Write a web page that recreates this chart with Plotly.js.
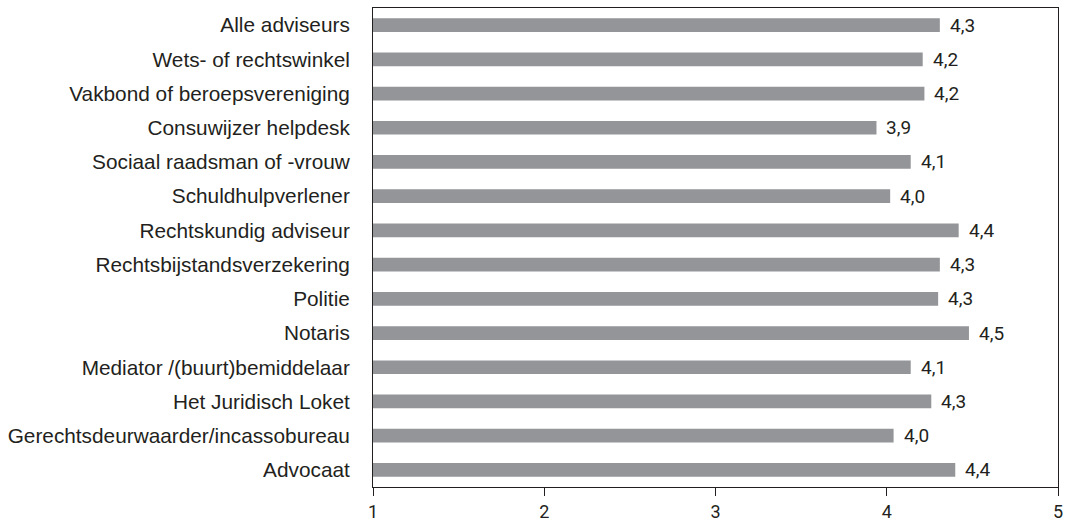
<!DOCTYPE html>
<html>
<head>
<meta charset="utf-8">
<script src="https://cdn.plot.ly/plotly-3.0.1.min.js"></script>
<style>html,body{margin:0;padding:0;background:#fff;}#chart{width:1067px;height:523px;}</style>
</head>
<body>
<div id="chart"></div>
<script>
const categories = [
  "Alle adviseurs",
  "Wets- of rechtswinkel",
  "Vakbond of beroepsvereniging",
  "Consuwijzer helpdesk",
  "Sociaal raadsman of -vrouw",
  "Schuldhulpverlener",
  "Rechtskundig adviseur",
  "Rechtsbijstandsverzekering",
  "Politie",
  "Notaris",
  "Mediator /(buurt)bemiddelaar",
  "Het Juridisch Loket",
  "Gerechtsdeurwaarder/incassobureau",
  "Advocaat"
];
const values = [4.31, 4.21, 4.22, 3.94, 4.14, 4.02, 4.42, 4.31, 4.30, 4.48, 4.14, 4.26, 4.04, 4.40];
const valueLabels = ["4,3", "4,2", "4,2", "3,9", "4,1", "4,0", "4,4", "4,3", "4,3", "4,5", "4,1", "4,3", "4,0", "4,4"];
const xTicks = [1, 2, 3, 4, 5];

const textColor = "#231f20";

const trace = {
  type: "bar",
  orientation: "h",
  y: categories,
  x: values,
  base: 0,
  marker: {color: "#939598", line: {width: 0}},
  hoverinfo: "none"
};

const annotations = categories.map((c, i) => ({
  x: values[i], y: c, xref: "x", yref: "y",
  text: valueLabels[i], showarrow: false,
  xanchor: "left", yanchor: "middle", xshift: 8,
  font: {family: "Roboto, 'DejaVu Sans', sans-serif", size: 19, color: textColor}
}));

const layout = {
  width: 1067, height: 523,
  margin: {l: 373, r: 9, t: 8, b: 36, pad: 0},
  paper_bgcolor: "#ffffff", plot_bgcolor: "#ffffff",
  showlegend: false,
  bargap: 0.6,
  xaxis: {
    range: [1, 5], tickvals: xTicks, ticktext: xTicks.map(String),
    ticks: "outside", ticklen: 8, tickwidth: 1, tickcolor: textColor,
    showline: true, linecolor: textColor, linewidth: 1, mirror: true,
    showgrid: false, zeroline: false, ticklabelstandoff: 0,
    tickfont: {family: "Roboto, 'DejaVu Sans', sans-serif", size: 18, color: textColor},
    fixedrange: true
  },
  yaxis: {
    type: "category", autorange: "reversed",
    ticks: "", showline: true, linecolor: textColor, linewidth: 1, mirror: true,
    showgrid: false, zeroline: false, ticklabelstandoff: 18,
    tickfont: {family: "'Liberation Sans', Arial, sans-serif", size: 20.8, color: textColor},
    fixedrange: true
  },
  annotations: annotations
};

Plotly.newPlot("chart", [trace], layout, {displayModeBar: false, staticPlot: true});
</script>
</body>
</html>
